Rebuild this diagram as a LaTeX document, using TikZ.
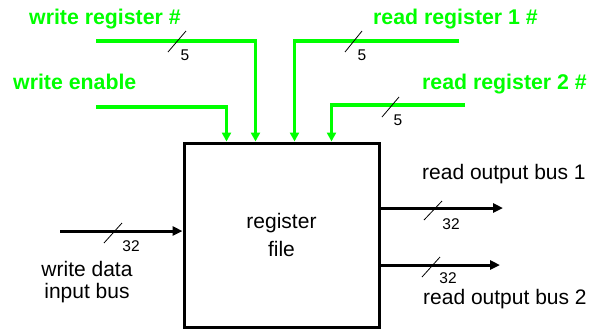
\documentclass[tikz,border=0pt]{standalone}
\usepackage{fontspec}
\setmainfont{Liberation Sans}
\usetikzlibrary{arrows.meta,calc}
\definecolor{sig}{RGB}{0,255,0}
\begin{document}
\begin{tikzpicture}[x=1bp,y=-1bp,
  ctl/.style={draw=sig, line width=3.5bp, -{Triangle[length=9bp,width=9bp]}},
  bus/.style={draw=black, line width=3bp, -{Triangle[length=10bp,width=9bp]}},
  tick/.style={draw=black, line width=0.8bp},
  ctltext/.style={text=sig, font=\fontsize{21.3bp}{24bp}\selectfont\bfseries, inner sep=0},
  plain/.style={font=\fontsize{21bp}{22bp}\selectfont, inner sep=0},
  bits/.style={font=\fontsize{15.5bp}{18bp}\selectfont, anchor=base, inner sep=0},
]
\useasboundingbox (0,0) rectangle (597,331);

% register file block
\node[draw, line width=3bp, minimum width=195bp, minimum height=184bp, inner sep=0,
      align=center, font=\fontsize{21bp}{28bp}\selectfont] (rf) at (281.5,235) {register\\file};

% control inputs (green)
\coordinate (wen) at (96,107);
\coordinate (wrn) at (96,41);
\coordinate (rr1) at (459,41);
\coordinate (rr2) at (465,105);
\draw[ctl] (wen) -| ($(rf.north west)+(44,0)$);
\draw[ctl] (wrn) -| ($(rf.north west)+(73,0)$);
\draw[ctl] (rr1) -| ($(rf.north west)+(112,0)$);
\draw[ctl] (rr2) -| ($(rf.north west)+(149,0)$);

\node[ctltext, anchor=base west] (lwrn) at (29,24) {write register \#};
\node[ctltext, anchor=base west] (lwen) at (13,89) {write enable};
\node[ctltext, anchor=base west] (lrr1) at (373,24) {read register 1 \#};
\node[ctltext, anchor=base west] (lrr2) at (422,89) {read register 2 \#};

% data buses
\coordinate (wd) at (60,231);
\coordinate (ro1) at (503,208);
\coordinate (ro2) at (500,265);
\draw[bus] (wd) -- (wd -| rf.west);
\draw[bus] (rf.east |- ro1) -- (ro1);
\draw[bus] (rf.east |- ro2) -- (ro2);

\node[plain, anchor=base west] (lro1) at (422,179) {read output bus 1};
\node[plain, anchor=base west] (lro2) at (423,304.5) {read output bus 2};
\node[plain, align=center] (lwd) at (87,282.4) {write data\\input bus};

% bus width marks
\draw[tick] (168,52) -- (186,31);
\draw[tick] (345,52) -- (362,31);
\draw[tick] (382,117) -- (399,97);
\draw[tick] (104,243) -- (122,223);
\draw[tick] (424,220) -- (442,201);
\draw[tick] (422,277) -- (440,257);
\node[bits] (b1) at (185,60) {5};
\node[bits] (b2) at (362,60) {5};
\node[bits] (b3) at (398,125) {5};
\node[bits] (b4) at (131,251) {32};
\node[bits] (b5) at (451,229) {32};
\node[bits] (b6) at (448,283.5) {32};
\end{tikzpicture}
\end{document}
